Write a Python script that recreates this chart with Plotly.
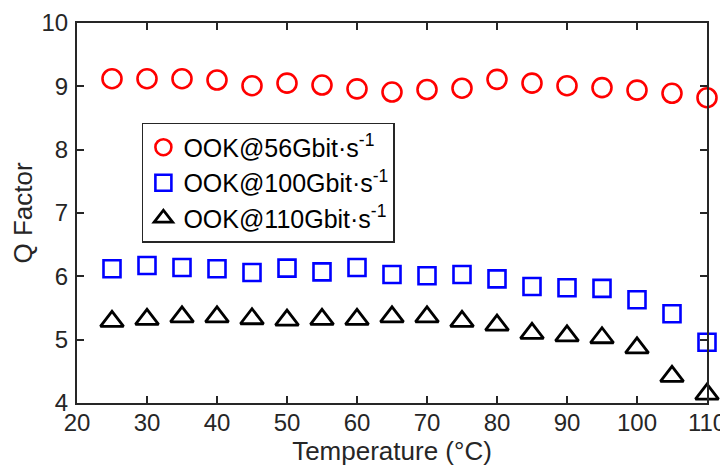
import plotly.graph_objects as go

temperature = [25, 30, 35, 40, 45, 50, 55, 60, 65, 70, 75, 80, 85, 90, 95, 100, 105, 110]
q_56g = [9.12, 9.12, 9.12, 9.10, 9.01, 9.05, 9.02, 8.96, 8.91, 8.95, 8.97, 9.11, 9.05, 9.01, 8.98, 8.94, 8.89, 8.82]
q_100g = [6.12, 6.17, 6.14, 6.12, 6.06, 6.13, 6.07, 6.14, 6.03, 6.01, 6.03, 5.96, 5.84, 5.82, 5.81, 5.63, 5.41, 4.96]
q_110g = [5.29, 5.32, 5.36, 5.36, 5.33, 5.31, 5.32, 5.32, 5.36, 5.36, 5.29, 5.23, 5.10, 5.06, 5.03, 4.87, 4.42, 4.14]

series_names = ["OOK@56Gbit·s<sup>-1</sup>", "OOK@100Gbit·s<sup>-1</sup>", "OOK@110Gbit·s<sup>-1</sup>"]
x_ticks = [20, 30, 40, 50, 60, 70, 80, 90, 100, 110]
y_ticks = [4, 5, 6, 7, 8, 9, 10]

FONT = "Arial, Liberation Sans, Helvetica, sans-serif"
AX = "#262626"

fig = go.Figure()
fig.add_trace(go.Scatter(x=temperature, y=q_56g, mode="markers", name=series_names[0],
                         marker=dict(symbol="circle-open", size=19, color="#FF0000",
                                     line=dict(width=2.6, color="#FF0000")),
                         cliponaxis=False))
fig.add_trace(go.Scatter(x=temperature, y=q_100g, mode="markers", name=series_names[1],
                         marker=dict(symbol="square-open", size=17, color="#0000FF",
                                     line=dict(width=2.6, color="#0000FF")),
                         cliponaxis=False))
fig.add_trace(go.Scatter(x=temperature, y=q_110g, mode="markers", name=series_names[2],
                         marker=dict(symbol="triangle-up-open", size=20, color="#000000",
                                     line=dict(width=2.8, color="#000000")),
                         cliponaxis=False))

axis_common = dict(showline=True, linecolor=AX, linewidth=2, mirror="ticks",
                   ticks="inside", ticklen=7, tickwidth=1.5, tickcolor=AX,
                   showgrid=False, zeroline=False, automargin=False,
                   tickfont=dict(family=FONT, size=24, color="#262626"))

fig.update_xaxes(range=[20, 110], tickvals=x_ticks, ticklabelstandoff=-3,
                 title=dict(text="Temperature (°C)", font=dict(family=FONT, size=26, color="#262626"), standoff=0),
                 **axis_common)
fig.update_yaxes(range=[4, 10], tickvals=y_ticks, ticklabelstandoff=2,
                 title=dict(text="Q Factor", font=dict(family=FONT, size=26, color="#262626"), standoff=8),
                 **axis_common)

# page body has an 8px default margin, so the figure is sized to the remaining area
fig.update_layout(
    width=720, height=464,
    margin=dict(l=69, r=21, t=15, b=69, autoexpand=False),
    paper_bgcolor="white", plot_bgcolor="white",
    font=dict(family=FONT, color="#000000"),
    legend=dict(x=0.103, y=0.737, xanchor="left", yanchor="top",
                bgcolor="white", bordercolor=AX, borderwidth=1.5,
                font=dict(family=FONT, size=25, color="#000000"),
                tracegroupgap=0, itemsizing="trace"),
    showlegend=True,
)

fig.write_html("out.html")
